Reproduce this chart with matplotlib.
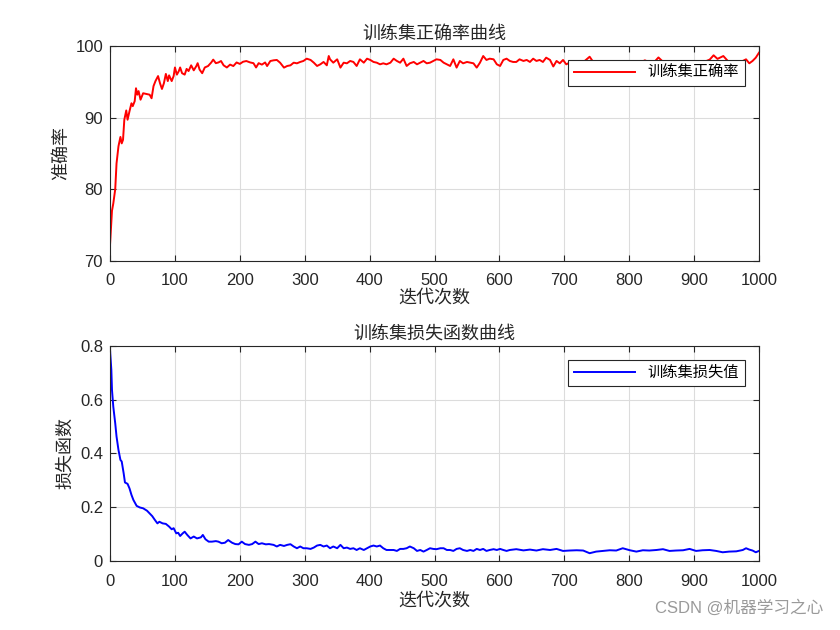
import numpy as np
import matplotlib
matplotlib.use('Agg')
import matplotlib.pyplot as plt

plt.rcParams['font.family'] = ['Liberation Sans', 'Noto Sans CJK SC']
plt.rcParams['axes.unicode_minus'] = False

# 训练集正确率 (迭代次数, 数值)
acc_iter = [0, 3, 5, 8, 10, 13, 16, 18, 20, 22, 25, 27, 30, 33, 35, 38, 40, 42, 44, 47,
            51, 56, 61, 64, 67, 70, 74, 77, 80, 83, 86, 89, 91, 95, 98, 100, 103, 106, 108, 111,
            115, 118, 121, 125, 129, 133, 135, 138, 142, 146, 151, 156, 159, 163, 167, 171, 175, 180, 185, 190,
            195, 200, 205, 210, 216, 221, 225, 229, 234, 239, 242, 247,
            252, 257, 262, 268, 273, 278, 283, 288, 293, 298, 303, 309, 314, 319, 324, 329, 334, 337, 339, 344,
            350, 355, 360, 365, 370, 375, 380, 385, 391, 396, 401, 406, 411, 416, 421, 426, 432, 437, 442, 447,
            452, 457, 462, 468, 473, 478, 483, 488, 493, 498, 503, 509, 514, 519, 524, 529, 534, 539, 544, 550,
            555, 560, 565, 570, 575, 580, 585, 591, 596, 601, 606, 611, 616, 621, 626, 631, 637, 642, 647, 652,
            657, 662, 667, 672, 678, 683, 688, 693, 698, 703, 708, 715, 722, 730, 739, 745, 752, 760, 768, 776,
            784, 792, 800, 808, 816, 824, 832, 840, 845, 852, 860, 868, 876, 884, 892, 900, 908, 916, 924, 930,
            936, 945, 952, 960, 968, 975, 980, 985, 990, 995, 1000]
acc_val = [72.3, 77.0, 78.0, 80.0, 83.6, 86.0, 87.3, 86.4, 86.9, 89.7, 91.0, 89.7, 90.9, 92.0, 91.6, 92.3, 94.1, 93.2, 93.7, 92.5,
           93.4, 93.3, 93.2, 92.7, 94.4, 95.1, 95.8, 94.8, 94.0, 94.8, 96.1, 95.1, 95.9, 95.1, 95.8, 97.0, 96.0, 96.5, 97.0, 96.2,
           96.0, 96.8, 96.5, 97.3, 96.6, 97.2, 97.6, 96.7, 96.2, 97.0, 97.2, 97.7, 98.1, 97.6, 97.7, 97.9, 97.3, 97.0, 97.4, 97.2,
           97.7, 97.5, 97.8, 97.9, 97.7, 97.6, 97.0, 97.6, 97.4, 97.7, 97.2, 97.9,
           98.0, 98.05, 97.67, 96.98, 97.21, 97.3, 97.67, 97.58, 97.77, 97.91, 98.23, 98.05, 97.67, 97.21, 97.44, 97.77, 97.3, 98.6, 98.14, 97.67,
           98.14, 96.98, 97.67, 97.58, 97.91, 97.77, 97.21, 98.14, 97.67, 98.23, 98.05, 97.77, 97.67, 97.44, 97.58, 97.44, 97.67, 98.23, 97.91, 97.67,
           98.23, 97.21, 97.58, 97.77, 97.44, 97.67, 97.91, 97.58, 97.67, 97.91, 98.14, 98.05, 97.67, 97.44, 97.21, 98.14, 96.98, 97.91, 97.58, 97.77,
           97.67, 97.58, 96.98, 97.67, 98.6, 98.05, 98.23, 98.14, 97.44, 97.21, 98.05, 98.23, 97.91, 97.77, 97.77, 98.14, 97.91, 98.05, 97.77, 98.23,
           97.91, 98.05, 97.77, 98.37, 98.05, 97.14, 97.91, 97.58, 98.05, 97.44, 97.67, 97.9, 97.6, 97.8, 98.5, 97.7, 97.9, 97.5, 97.8, 97.6,
           97.9, 97.7, 97.5, 97.8, 97.6, 98.0, 97.7, 97.9, 98.4, 97.8, 97.6, 97.9, 97.5, 97.8, 97.7, 97.9, 97.6, 97.8, 98.1, 98.7,
           98.2, 98.6, 97.9, 97.7, 97.9, 97.91, 98.14, 97.58, 97.91, 98.37, 99.07]

# 训练集损失值 (迭代次数, 数值)
loss_iter = [0, 2, 3, 5, 8, 10, 13, 16, 18, 21, 23, 27, 30, 33, 36, 41, 46, 51, 55, 57,
             61, 65, 69, 73, 76, 81, 86, 91, 95, 98, 102, 105, 108, 112, 115, 119, 124, 129, 134, 140,
             143, 147, 152, 157, 163, 167, 172, 177, 182, 188, 193, 198, 203, 208, 214, 219, 224, 229, 234, 240,
             245,
             252, 257, 262, 268, 273, 278, 283, 288, 293, 298, 303, 309, 314, 319, 324, 329, 334, 339, 344,
             350, 355, 360, 365, 370, 375, 380, 385, 391, 396, 401, 406, 411, 416, 421, 426, 432, 437, 442, 447,
             452, 457, 462, 468, 473, 478, 483, 488, 493, 498, 503, 509, 514, 519, 524, 529, 534, 539, 544, 550,
             555, 560, 565, 570, 575, 580, 585, 591, 596, 601, 606, 611, 616, 626, 637, 647, 657, 667, 678, 688,
             698, 708, 719, 729, 739, 749, 760, 770, 780, 790, 801, 811, 821, 831, 842, 852, 862, 872, 883, 893,
             903, 913, 924, 934, 944, 954, 965, 975, 980, 985, 990, 995, 1000]
loss_val = [0.783, 0.711, 0.636, 0.574, 0.512, 0.463, 0.413, 0.376, 0.370, 0.326, 0.292, 0.287, 0.270, 0.246, 0.227, 0.205, 0.199, 0.196, 0.190, 0.187,
            0.177, 0.167, 0.153, 0.140, 0.146, 0.140, 0.138, 0.128, 0.118, 0.122, 0.103, 0.105, 0.093, 0.103, 0.109, 0.097, 0.084, 0.091, 0.084, 0.088,
            0.097, 0.081, 0.072, 0.072, 0.074, 0.072, 0.066, 0.068, 0.078, 0.068, 0.063, 0.062, 0.072, 0.063, 0.060, 0.063, 0.072, 0.063, 0.066, 0.062,
            0.063,
            0.060, 0.054, 0.060, 0.056, 0.060, 0.0625, 0.054, 0.0475, 0.054, 0.0475, 0.0475, 0.045, 0.050, 0.0575, 0.060, 0.054, 0.0575, 0.0475, 0.054,
            0.0475, 0.060, 0.0475, 0.050, 0.045, 0.0475, 0.041, 0.0475, 0.041, 0.0475, 0.054, 0.0575, 0.054, 0.0575, 0.0475, 0.041, 0.041, 0.041, 0.0375, 0.045,
            0.045, 0.0475, 0.054, 0.0475, 0.0375, 0.041, 0.035, 0.041, 0.0475, 0.045, 0.044, 0.0475, 0.0475, 0.041, 0.041, 0.0375, 0.045, 0.0475, 0.041, 0.0375,
            0.041, 0.0375, 0.045, 0.041, 0.045, 0.0375, 0.041, 0.044, 0.041, 0.045, 0.041, 0.0375, 0.041, 0.044, 0.0395, 0.0425, 0.039, 0.044, 0.041, 0.045,
            0.0375, 0.039, 0.040, 0.039, 0.029, 0.035, 0.0375, 0.040, 0.039, 0.0475, 0.040, 0.035, 0.040, 0.039, 0.041, 0.044, 0.0375, 0.039, 0.040, 0.045,
            0.0375, 0.040, 0.041, 0.0375, 0.0325, 0.035, 0.036, 0.041, 0.0475, 0.0425, 0.039, 0.0325, 0.0375]

fig = plt.figure(figsize=(8.4, 6.3), dpi=100)
ax1 = fig.add_axes([0.131, 0.586, 0.7726, 0.341])
ax2 = fig.add_axes([0.131, 0.1095, 0.7726, 0.3415])

ax1.plot(acc_iter, acc_val, color='red', lw=1.4, label='训练集正确率')
ax2.plot(loss_iter, loss_val, color='blue', lw=1.4, label='训练集损失值')

ax1.set_ylim(70, 100)
ax1.set_yticks([70, 80, 90, 100])
ax2.set_ylim(0, 0.8)
ax2.set_yticks([0, 0.2, 0.4, 0.6, 0.8])
ax2.set_yticklabels(['0', '0.2', '0.4', '0.6', '0.8'])

titles = ['训练集正确率曲线', '训练集损失函数曲线']
ylabels = ['准确率', '损失函数']
xlpads = [1, 3]
for ax, t, yl, lp in zip([ax1, ax2], titles, ylabels, xlpads):
    ax.set_xlim(0, 1000)
    ax.set_xticks(range(0, 1001, 100))
    ax.grid(True, color='#dcdcdc', lw=0.8)
    ax.set_axisbelow(True)
    ax.tick_params(direction='in', top=True, right=True, labelsize=12, length=4,
                   color='#262626', labelcolor='#262626', pad=5)
    ax.tick_params(axis='x', pad=9)
    for s in ax.spines.values():
        s.set_color('#262626')
        s.set_linewidth(0.8)
    ax.set_title(t, fontsize=13, color='#262626', pad=5)
    ax.set_xlabel('迭代次数', fontsize=13, color='#262626', labelpad=lp)
    ax.set_ylabel(yl, fontsize=13, color='#262626', labelpad=4)
    leg = ax.legend(loc='upper right', fontsize=11, fancybox=False, handlelength=4.0,
                    borderaxespad=0.9, framealpha=1, borderpad=0.4)
    leg.get_frame().set_edgecolor('#262626')
    leg.get_frame().set_linewidth(0.8)

fig.text(0.98, 0.022, 'CSDN @机器学习之心', ha='right', va='bottom', fontsize=12, color='#9a9a9a')

fig.savefig('out.png', dpi=100, facecolor='white')
